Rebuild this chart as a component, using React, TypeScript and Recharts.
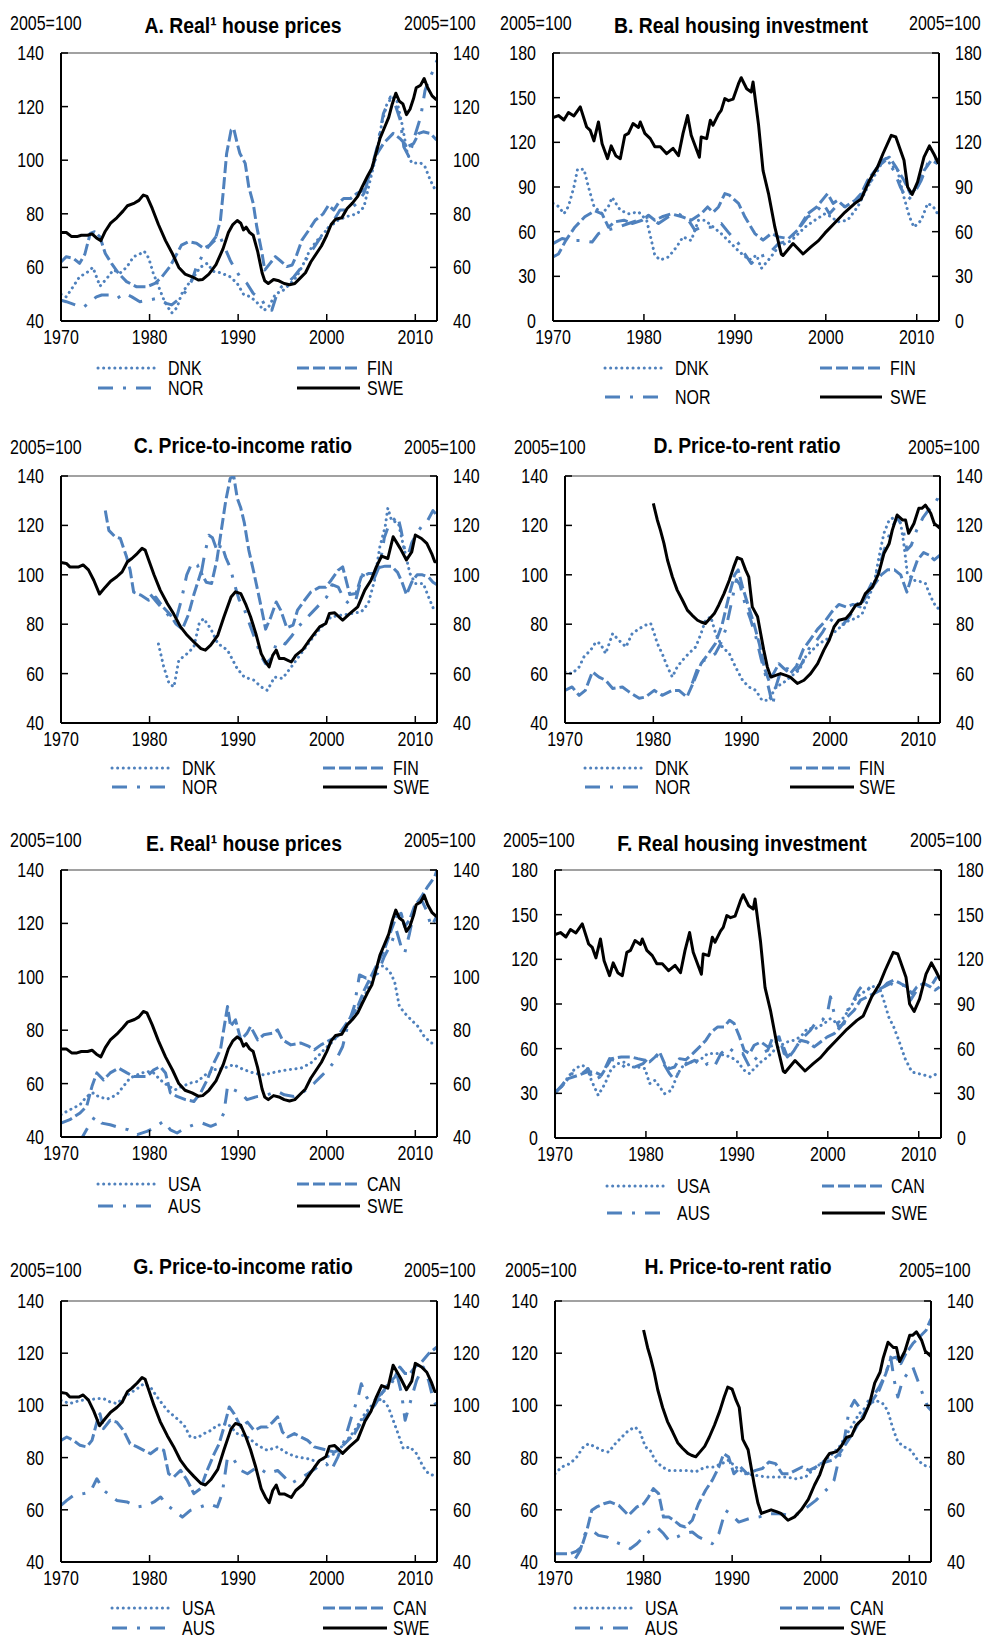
import React from "react";
import { LineChart, Line, XAxis, YAxis, ReferenceLine } from "recharts";

type Pt = [number, number];

// ── data: [year, index 2005=100] ─────────────────────────────────────────────

const YEARS = [1970, 1980, 1990, 2000, 2010];
const TICKS_RATIO = [40, 60, 80, 100, 120, 140];
const TICKS_INVEST = [0, 30, 60, 90, 120, 150, 180];
const NORDIC = ["DNK", "FIN", "NOR", "SWE"];
const ANGLO = ["USA", "CAN", "AUS", "SWE"];

const SWE_PRICE: Pt[] = [[1970,73],[1970.6,73],[1971.2,71.5],[1971.8,71.5],[1972.3,72],[1973,72],[1973.5,72.5],[1974,71],[1974.5,70],[1975,73.5],[1975.6,76.5],[1976.3,78.5],[1977,81],[1977.5,83],[1978.3,84],[1978.8,85],[1979.3,87],[1979.7,86.5],[1980.3,82],[1981,76],[1981.8,70],[1982.6,65],[1983.3,60],[1984,57.5],[1984.8,56.5],[1985.5,55.3],[1986,55.5],[1986.7,57.5],[1987.5,61],[1988.3,67],[1988.9,73],[1989.4,76],[1989.9,77.5],[1990.3,76.5],[1990.6,74],[1990.9,75],[1991.3,73],[1991.7,72],[1992.2,66],[1992.7,58],[1993,55],[1993.4,54],[1994,55.5],[1994.6,55],[1995.2,54],[1995.8,53.5],[1996.4,54],[1997,56],[1997.6,58],[1998.2,62],[1998.8,65],[1999.4,68],[2000,72],[2000.5,76],[2001,78],[2001.7,78.5],[2002.3,82],[2002.9,84],[2003.5,86.5],[2004,90],[2004.6,94],[2005.1,97],[2005.6,103],[2006,108],[2006.5,112],[2007,116],[2007.4,121],[2007.8,125],[2008.2,122],[2008.6,121],[2009,117],[2009.4,119],[2009.8,123],[2010.1,127],[2010.6,128],[2011,130.5],[2011.4,127],[2011.9,124],[2012.4,122.5]];
const DNK_PRICE: Pt[] = [[1970,50],[1970.6,49],[1971.4,53],[1972.1,56.5],[1972.9,58],[1973.6,60],[1974,56.5],[1974.4,53],[1975.2,56],[1975.9,59],[1976.7,58],[1977.4,60],[1978.2,64],[1978.9,65],[1979.4,66],[1979.9,63.5],[1980.4,58],[1981,53],[1981.6,48],[1982.1,45],[1982.5,43],[1983.1,45],[1983.6,50],[1984.2,53],[1985,56.5],[1985.7,60],[1986.5,61.5],[1987.2,58.5],[1988,58],[1989.1,56.5],[1989.9,54],[1990.6,50],[1991.4,49],[1992.1,47],[1992.9,44],[1993.4,45],[1994.2,50],[1995.1,51.5],[1995.9,54],[1996.6,56.5],[1997.4,61.5],[1998.1,66.5],[1998.9,70],[2000,74],[2001.2,77.5],[2002.3,79],[2003.4,80],[2004.2,82.5],[2004.9,92.5],[2005.7,103.5],[2006.2,113.5],[2006.8,121],[2007.4,123.5],[2007.9,122.5],[2008.5,113.5],[2009.1,102.5],[2009.6,99],[2010.6,99],[2011.1,97.5],[2011.7,92.5],[2012.4,88]];
const FIN_PRICE: Pt[] = [[1970,62],[1970.6,64],[1971.4,63.4],[1972.1,61.5],[1972.7,65],[1973.3,72.7],[1973.8,73.3],[1974.4,71.4],[1975,65.2],[1975.7,61.5],[1976.5,57.8],[1977.4,54.7],[1978.5,52.8],[1979.7,52.8],[1980.6,54],[1981.4,56.5],[1982.3,60.3],[1983.1,65.2],[1983.6,68.3],[1984.4,69.6],[1985.3,69],[1986.1,67.1],[1986.8,68.3],[1987.4,70.2],[1988,77.6],[1988.3,87.6],[1988.7,102.5],[1989.2,111.2],[1989.5,111.8],[1989.9,106.2],[1990.2,102.5],[1990.8,98.8],[1991.2,90],[1991.7,83.9],[1992.1,75.2],[1992.7,65.2],[1993,59],[1993.6,61.5],[1994.2,64],[1994.9,62.1],[1995.5,60.3],[1996.1,60.9],[1996.6,64.6],[1997.2,70.2],[1998,74],[1998.7,77.6],[1999.6,80],[2000.2,83.2],[2000.8,81.4],[2001.3,83.9],[2001.9,85.7],[2002.7,85.7],[2003.4,87.6],[2004.2,88.8],[2004.9,95],[2005.7,102.5],[2006.4,106.2],[2007.5,110],[2008.3,108],[2009.1,105],[2009.8,106.2],[2010.4,110],[2010.9,110.6],[2011.7,110],[2012.4,107.5]];
const NOR_PRICE: Pt[] = [[1970,47.8],[1970.6,47.2],[1971.6,46],[1972.5,45],[1973.3,47.2],[1974,49],[1974.6,49.7],[1975.5,49.7],[1976.3,48.4],[1977.2,50.3],[1978,49],[1978.9,47.2],[1979.9,47.8],[1980.8,48.4],[1981.9,46.6],[1982.5,46],[1983.4,48.4],[1984.2,51.5],[1984.8,55.3],[1985.3,60.3],[1985.9,64],[1986.5,67.1],[1987.2,70.2],[1987.8,72.7],[1989.1,62.7],[1989.5,60.3],[1990.2,56.5],[1991,54],[1991.7,50.3],[1992.7,47.8],[1993.2,44.7],[1993.8,44],[1994.4,50.3],[1994.9,52.8],[1995.5,54],[1996.3,56.5],[1997.2,60.3],[1998.1,65.2],[1999.1,70.2],[2000,74],[2000.8,77.6],[2001.5,81.4],[2002.5,81.4],[2003.4,83.9],[2004.2,87.6],[2004.9,95],[2005.7,105],[2006.4,117.4],[2007.2,123.6],[2007.7,121],[2008.3,115],[2008.7,105],[2009.3,101.2],[2009.8,107.5],[2010.6,116.1],[2011.1,126],[2011.5,129.8],[2012.1,134],[2012.45,137.3]];

const SWE_INVEST: Pt[] = [[1970,136.6],[1970.6,138],[1971.2,135],[1971.7,140],[1972.3,137.7],[1973,143.8],[1973.7,130.3],[1974.1,128],[1974.5,121],[1975,133.7],[1975.4,119],[1976,109],[1976.4,117.6],[1976.9,111],[1977.4,109],[1977.9,124.7],[1978.3,126],[1978.8,132.6],[1979.4,130],[1979.6,133.7],[1980.1,126],[1980.7,122.5],[1981.2,117],[1981.8,117],[1982.5,112.4],[1983.2,116],[1983.8,111],[1984.3,126],[1984.8,138],[1985.2,124.7],[1986.1,110],[1986.3,123.6],[1986.9,122.5],[1987.3,134.8],[1987.6,131.5],[1988.2,139],[1988.5,141.5],[1988.9,149.4],[1989.3,148],[1989.8,149],[1990.4,159.4],[1990.7,163.4],[1991.3,156],[1991.8,153.8],[1992,160.5],[1992.6,132],[1993.1,101],[1993.7,85.6],[1994.4,63],[1995.1,45],[1995.3,44],[1996.4,52],[1997.5,45],[1998.4,50],[1999.2,54],[1999.9,59],[2001,66],[2002.1,73],[2003.2,79],[2003.9,82],[2004.8,94.5],[2005.7,103.5],[2006.3,112.5],[2007.2,124.7],[2007.7,123.6],[2008.6,108],[2009,90],[2009.5,85],[2010.1,93.4],[2010.8,110],[2011.4,117.6],[2011.9,112],[2012.4,105.7]];
const DNK_INVEST: Pt[] = [[1970,79],[1970.6,77],[1971.2,72],[1971.7,77],[1972.3,90],[1972.7,102],[1973.4,102],[1973.9,90],[1974.5,77],[1975.4,72],[1976.1,77],[1976.5,83],[1977.4,74.4],[1978.3,72],[1979.4,73.3],[1980.3,67.7],[1980.9,52],[1981.2,44],[1981.8,41],[1982.7,43],[1983.6,49.8],[1984.3,56.5],[1985.2,54],[1986,67.7],[1986.7,67.7],[1987.6,63.2],[1988.5,58.7],[1989.6,52],[1990.5,46.4],[1991.6,41],[1992.4,44.2],[1992.9,35.3],[1993.7,41],[1994.8,49.8],[1996.2,54],[1997.7,63],[1998.8,67.7],[1999.9,72],[2000.6,70],[2001.3,66.6],[2002.4,67.7],[2003.5,76.6],[2004.6,90],[2005.7,101],[2006.5,110],[2007.2,104.6],[2007.9,101],[2008.6,83],[2009.2,70],[2009.7,63],[2010.5,67.7],[2011.2,79],[2011.8,77],[2012.3,72]];
const FIN_INVEST: Pt[] = [[1970,43],[1970.6,45],[1971.4,54],[1972.4,63],[1973.5,70],[1974.6,74],[1975.4,72],[1976.1,63],[1976.8,66.6],[1977.8,67.7],[1978.7,65.5],[1979.8,67.7],[1980.5,71],[1981.2,67.7],[1982,70],[1983,72],[1984.2,70],[1985.2,67.7],[1986.3,72],[1987,76.6],[1987.6,73],[1988.2,76.6],[1988.9,85.6],[1989.4,84.5],[1990.4,79],[1991.1,70],[1992.2,58.7],[1993.1,54.3],[1994,58.7],[1994.8,56.5],[1995.9,55.4],[1996.9,61],[1998,72],[1999,76.6],[1999.9,83.4],[2000.2,85.6],[2000.8,79],[2001.3,81],[2002.1,76.6],[2003.2,81],[2003.9,85.6],[2004.6,94.5],[2005.4,101],[2006.3,108],[2007,110],[2007.7,103.5],[2008.6,94.5],[2009.3,85.6],[2010.1,90],[2010.8,101],[2011.6,108],[2012.3,105.7]];
const NOR_INVEST: Pt[] = [[1970,52],[1971,55.4],[1972.1,54],[1973.2,54],[1974.3,53],[1975,58.7],[1975.9,61],[1977.2,63],[1978.3,65.5],[1979.4,67.7],[1980.5,70],[1981.6,65.5],[1982.7,70],[1983.8,72],[1984.9,67.7],[1985.6,61],[1986.3,63],[1987.4,63],[1988.5,65.5],[1989.4,58.7],[1990.4,52],[1991.1,45],[1991.8,38.6],[1992.6,43],[1993.7,45],[1994.8,52],[1995.9,54],[1996.9,61],[1998,70],[1998.8,72],[1999.7,79],[2000.4,72],[2001.3,78],[2002.4,76.6],[2003.5,81],[2004.6,90],[2005.7,103.5],[2006.6,108],[2007.5,101],[2008.2,90],[2009,81],[2009.7,85.6],[2010.5,94.5],[2011.2,105.7],[2011.9,110],[2012.3,108]];

const SWE_PTI: Pt[] = [[1970,105],[1970.6,104.6],[1971,103.2],[1972,103.2],[1972.5,104],[1973.1,102],[1973.7,97.8],[1974.35,92.2],[1975,95],[1975.6,97.4],[1976.3,99.2],[1976.9,101.2],[1977.5,105.3],[1978,106.6],[1978.6,108.6],[1979.15,110.7],[1979.5,110],[1979.9,106],[1980.5,100],[1981.2,93.8],[1982,88.4],[1982.7,84.3],[1983.5,78.9],[1984.25,75.5],[1985,72.8],[1985.8,70.1],[1986.3,69.5],[1986.9,71.5],[1987.7,75.5],[1988.4,83],[1989.2,91],[1989.7,93.1],[1990.3,92.4],[1990.9,87.7],[1991.4,83],[1992,76.2],[1992.6,68.1],[1993.1,64.7],[1993.5,62.7],[1993.9,67.4],[1994.3,69.5],[1994.65,66.1],[1995.2,66.1],[1996,64.7],[1996.5,67.4],[1997.3,69.7],[1997.9,72.8],[1998.6,76.2],[1999.2,78.9],[1999.9,80.3],[2000.3,84.3],[2000.9,84.6],[2001.8,81.6],[2002.6,84.3],[2003.5,87],[2004.3,93.8],[2005,97.8],[2005.6,103.2],[2006.2,107.6],[2006.9,106.6],[2007.5,115.4],[2008.3,110.7],[2009,106],[2009.6,109.3],[2010,116.1],[2010.7,114.7],[2011.3,112.7],[2011.85,108.6],[2012.2,105.3],[2012.45,105.3]];
const DNK_PTI: Pt[] = [[1981,72],[1981.6,62.7],[1982.2,56],[1982.75,54.6],[1983.3,65.4],[1984.25,68.1],[1985,70.8],[1985.6,80.3],[1986.1,82.3],[1986.9,78.2],[1987.7,72.2],[1988.8,69.5],[1989.9,62],[1990.7,58.6],[1991.8,57.3],[1992.6,54.6],[1993.3,53.2],[1994.1,58.6],[1995,58],[1996,62.7],[1997.1,68.1],[1998.2,73.5],[1999.4,78.9],[2000.5,83],[2001.6,83.6],[2002.8,84.3],[2003.9,85],[2004.7,88.4],[2005.4,97.8],[2006,111.4],[2006.6,119.5],[2006.9,127],[2007.3,122.2],[2008.1,120.8],[2008.6,112.7],[2009.4,100.5],[2010,96.5],[2010.9,96.5],[2011.5,91],[2012.2,85]];
const FIN_PTI: Pt[] = [[1975,126],[1975.4,118],[1976.1,115.4],[1976.7,114.7],[1977.4,107.3],[1977.8,102],[1978.2,93],[1979,91.8],[1979.9,89.7],[1980.7,91],[1981.5,87],[1982.3,84],[1983,80],[1983.7,78],[1984.4,84],[1985,92],[1985.8,101],[1986.4,97],[1987,96.5],[1987.6,106],[1988.1,118],[1988.6,130],[1989.1,139],[1989.5,140],[1989.9,131],[1990.3,127],[1990.7,121],[1991.2,110],[1991.8,100.5],[1992.6,87],[1993.1,78],[1993.7,83],[1994.3,89],[1994.8,85.7],[1995.5,78.5],[1996.2,79.6],[1996.7,85.7],[1997.5,89.7],[1998.2,93],[1999.2,95],[1999.9,95],[2000.5,97.8],[2001.3,101.9],[2001.8,103.2],[2002.6,92],[2003.3,92.4],[2003.9,99.2],[2004.7,100.5],[2005.4,100.5],[2006,103],[2006.6,103.5],[2007.3,103.5],[2008,101],[2008.5,97],[2009,92],[2009.6,97],[2010.2,100],[2010.8,100],[2011.5,99],[2012,97],[2012.45,96]];
const NOR_PTI: Pt[] = [[1980.1,92],[1980.8,89],[1981.5,86],[1982.3,83],[1983,82],[1983.6,90],[1984.2,100],[1984.8,105],[1985.4,104],[1985.8,100],[1986.2,108],[1986.7,116],[1987.1,115],[1987.7,109],[1988.1,112.7],[1988.6,107],[1989.1,103],[1989.6,96],[1990.1,90],[1990.7,86],[1991.3,80],[1992,73],[1992.6,67],[1993.1,64],[1993.7,66],[1994.3,72],[1994.8,73],[1995.3,72],[1996,75],[1996.8,79],[1997.6,82],[1998.4,85],[1999.2,88],[2000,91],[2000.6,96],[2001.3,95],[2002,90],[2002.6,88],[2003.3,90],[2004,100],[2004.6,99],[2005.3,98],[2006,104],[2006.5,115],[2007,120],[2007.5,122],[2008,124],[2008.4,118],[2008.8,110],[2009.2,108],[2009.6,113],[2010.2,117],[2010.8,120],[2011.4,122],[2012,126],[2012.45,124]];

const SWE_PTR: Pt[] = [[1980,128.9],[1980.45,122.2],[1980.8,118.1],[1981.2,112.7],[1981.6,106],[1982.15,99.2],[1982.7,93.8],[1983.3,89.7],[1983.85,85.7],[1984.4,83.6],[1985,81.6],[1985.4,80.9],[1985.9,80.3],[1986.3,81.9],[1986.9,84.3],[1987.4,87.7],[1988,92.4],[1988.6,97.8],[1989.1,103.2],[1989.5,107],[1990,106.2],[1990.45,101.9],[1990.8,99.2],[1991.2,87],[1991.8,83],[1992.15,76.2],[1992.5,69.5],[1992.9,62.7],[1993.3,58.6],[1993.85,59.3],[1994.4,60],[1995,59.3],[1995.5,58.6],[1996.3,56],[1997.05,57.3],[1997.8,60],[1998.6,64],[1999.3,69.5],[1999.9,73.5],[2000.45,78.9],[2001,81.6],[2001.8,82.3],[2002.3,84.3],[2002.9,87.7],[2003.5,88.4],[2004,92.4],[2004.8,95.1],[2005.5,100.5],[2006.1,108.6],[2006.7,112.7],[2007.05,118.1],[2007.6,124.2],[2008.2,122.2],[2008.55,122.2],[2008.9,116.8],[2009.5,120.8],[2010.05,126.9],[2010.4,126.9],[2010.8,128.2],[2011.4,124.9],[2011.8,120.8],[2012.45,118.8]];
const DNK_PTR: Pt[] = [[1970,60.7],[1970.8,60],[1971.6,62.7],[1972.15,66.8],[1972.9,69.5],[1973.5,72.8],[1974,72.2],[1974.6,68.1],[1975.4,76.2],[1976.1,73.5],[1976.9,70.8],[1977.6,76.2],[1978.4,78.2],[1979.1,79.6],[1979.7,80.3],[1980.1,76.2],[1980.45,72.2],[1981,68.1],[1981.6,62.7],[1982.15,58.6],[1982.7,62.7],[1983.3,65.4],[1984,68.1],[1984.8,70.8],[1985.4,76.2],[1985.9,81.6],[1986.5,83],[1987.05,76.2],[1987.8,70.8],[1988.6,68.1],[1989.3,62.7],[1990.1,57.3],[1990.8,54.6],[1991.6,53.2],[1992.3,49.2],[1993.1,49.2],[1993.85,54.6],[1994.6,55.9],[1995.5,58.6],[1996.5,61.4],[1997.25,66.8],[1998,69.5],[1998.75,72.2],[1999.5,73.5],[2000.3,76.2],[2001.2,78.9],[2002.15,81.6],[2002.9,82.3],[2003.65,84.3],[2004.4,91.1],[2005,96.5],[2005.55,107.3],[2006.1,116.8],[2006.7,122.2],[2007.4,123.5],[2008,120.8],[2008.4,111.4],[2008.75,100.5],[2009.5,97.8],[2010.25,97.2],[2010.8,96.5],[2011.4,91.1],[2012,87],[2012.45,86]];
const FIN_PTR: Pt[] = [[1970,53.2],[1970.8,54.6],[1971.6,51.2],[1972.3,53.2],[1973.1,60.7],[1973.85,58.6],[1974.6,57.3],[1975.4,54],[1976.5,54.6],[1977.25,52.6],[1978.4,50],[1979.1,50.5],[1980.1,53.2],[1981,51.2],[1982.15,53.2],[1982.9,53.2],[1983.8,50.5],[1984.6,57],[1985.4,64],[1986.2,68],[1987,72],[1987.8,80],[1988.6,92],[1989.2,100],[1989.6,102],[1990.1,95],[1990.7,88],[1991.4,80],[1992,72],[1992.6,62],[1993.1,57],[1993.6,60],[1994.2,64],[1994.8,62],[1995.5,60],[1996.2,63],[1997,70],[1997.8,74],[1998.6,78],[1999.4,81],[2000.2,85],[2001,88],[2001.8,87],[2002.6,88],[2003.4,87],[2004.2,92],[2005,96],[2005.8,100],[2006.5,102],[2007.3,102],[2008,100],[2008.7,93],[2009.3,100],[2009.9,106],[2010.6,109],[2011.2,108],[2011.8,106],[2012.45,108]];
const NOR_PTR: Pt[] = [[1984.4,56],[1985,62],[1985.5,65],[1986.2,66],[1987,68],[1987.6,72],[1988.2,78],[1988.8,88],[1989.4,98],[1989.8,96],[1990.4,88],[1991,82],[1991.6,75],[1992.2,66],[1992.8,58],[1993.2,52],[1993.5,47],[1993.9,55],[1994.5,62],[1995.2,62],[1996,60],[1996.8,64],[1997.6,70],[1998.4,73],[1999.2,77],[2000,82],[2000.8,80],[2001.5,80],[2002.2,83],[2003,88],[2003.8,90],[2004.5,95],[2005.2,100],[2005.8,106],[2006.4,113],[2007,119],[2007.6,123],[2008.2,120],[2008.7,110],[2009.2,112],[2009.8,118],[2010.5,123],[2011.1,126],[2011.7,128],[2012.2,131],[2012.45,134]];

const USA_PRICE: Pt[] = [[1970,48.4],[1971,50.2],[1972.15,52.1],[1972.9,55.2],[1973.65,56.5],[1974.2,55.2],[1975.2,54.2],[1976.3,55.8],[1977.05,59],[1977.8,62.1],[1978.6,63.3],[1979.7,64.6],[1980.5,63.9],[1981.2,61.4],[1982.15,59],[1982.9,57.7],[1983.7,59],[1984.6,60.2],[1985.4,60.8],[1986.3,63.3],[1987.3,65.2],[1988.4,65.8],[1989.5,67.1],[1990.65,65.2],[1991.8,63.9],[1992.9,63.3],[1994.05,64.2],[1995.6,65.2],[1997.1,65.8],[1998.2,67.7],[1999,70.2],[1999.7,72.7],[2000.5,75.2],[2001.2,77.7],[2002,80],[2003,85],[2004,91],[2005,98],[2005.8,104],[2006.5,104],[2007.3,101],[2007.7,97.6],[2008.2,89],[2008.8,86.4],[2009.5,84],[2010.3,81.4],[2011,77.7],[2011.8,75.2],[2012.4,75]];
const CAN_PRICE: Pt[] = [[1970,45.2],[1971,46.5],[1972.15,49],[1972.9,51.5],[1973.5,59],[1974.05,64],[1974.8,61.4],[1975.55,64],[1976.5,65.8],[1977.45,64],[1978.2,62.7],[1978.95,62.7],[1979.7,62.7],[1980.5,65.2],[1981.2,66.4],[1981.8,64],[1982.35,56.5],[1983.1,55.2],[1984.05,54],[1985,53.3],[1985.75,56.5],[1986.5,61.4],[1987.25,67.7],[1988,72.7],[1988.8,88.9],[1989.15,81.4],[1989.7,83.9],[1990.3,76.4],[1991,78.9],[1991.4,81.4],[1992.2,76.4],[1992.9,78.3],[1993.9,78.9],[1994.45,80.1],[1995,76.4],[1995.95,74.5],[1997.1,75.2],[1998,73.9],[1998.6,72.7],[1999.35,74.5],[2000.1,75.8],[2001.2,77.7],[2002,81.4],[2002.75,85.1],[2003.5,88.9],[2004.25,95.1],[2005,100.1],[2005.75,105.1],[2006.5,110.1],[2007.3,117.6],[2007.85,122.5],[2008.4,123.8],[2008.8,118.8],[2009.35,121.3],[2009.9,126.3],[2010.7,130],[2011.4,133.8],[2012.2,137.5],[2012.45,140]];
const AUS_PRICE: Pt[] = [[1972.1,38.5],[1972.35,39.6],[1973.1,44],[1973.85,47.7],[1974.6,45.2],[1975.55,44.6],[1976.7,43.4],[1977.6,42.7],[1978.6,40.9],[1979.7,42.1],[1980.5,43.4],[1981.6,45.9],[1982.35,42.7],[1983.1,41.5],[1984.05,43.4],[1985,44.6],[1985.95,45.2],[1986.9,44],[1987.8,45.2],[1988.4,49],[1988.8,59],[1989.5,57.7],[1990.3,56.5],[1991,54],[1992.2,55.2],[1993.3,55.8],[1994.45,57.1],[1995.2,55.8],[1996.3,55.2],[1997.45,57.1],[1998.6,60.2],[1999.35,62.7],[2000.3,65.8],[2001.25,70.2],[2001.8,73.9],[2002.35,81.4],[2003.1,88.9],[2003.7,100.7],[2004.45,99.5],[2005,100.1],[2005.75,101.3],[2006.5,107.6],[2007.3,112.6],[2007.85,117.6],[2008.4,111.3],[2008.8,108.8],[2009.35,116.3],[2009.9,125],[2010.7,128.8],[2011.25,125],[2011.8,118.8],[2012.4,122.5]];

const USA_INVEST: Pt[] = [[1970,32],[1970.7,34.3],[1971.45,41],[1972.2,46.6],[1972.9,48.8],[1973.5,47.7],[1974,38.7],[1974.75,28.7],[1975.5,36.5],[1976.2,46.6],[1976.95,50],[1977.7,51.1],[1978.4,47.7],[1979.1,47.7],[1979.9,46.6],[1980.4,36.5],[1981,38.7],[1981.5,34.3],[1982.05,29.8],[1982.8,32],[1983.5,43.2],[1984.25,50],[1985,51.1],[1985.9,52.2],[1986.8,56.7],[1987.9,56.7],[1988.6,55.6],[1989.35,54.4],[1990.1,51.1],[1990.8,45.5],[1991.4,43.2],[1991.9,46.6],[1992.65,51.1],[1993.4,54.4],[1994.1,58.9],[1994.85,62.3],[1995.55,64.5],[1996.3,65.7],[1997,67.9],[1997.75,73.5],[1998.65,73.5],[1999.6,76.9],[2000.3,80.2],[2001.05,76.9],[2001.8,81.3],[2002.5,88.1],[2003.2,94.8],[2004,98.2],[2004.9,101.5],[2005.6,102.6],[2006.15,92.6],[2006.7,81.3],[2007.25,74.6],[2007.8,65.7],[2008.5,53.3],[2009.25,44.3],[2010,43.2],[2010.7,42.1],[2011.3,41],[2012,43.2]];
const CAN_INVEST: Pt[] = [[1970,30.9],[1970.7,34.3],[1971.45,39.9],[1972.55,42.1],[1973.5,44.3],[1974.4,44.3],[1975.1,42.1],[1975.65,47.7],[1976.2,53.3],[1977.3,54.4],[1978.4,54.4],[1979.1,53.3],[1979.9,52.2],[1980.4,51.1],[1981,54.4],[1981.5,57.8],[1982.05,50],[1982.6,46.6],[1983.15,47.7],[1983.7,53.3],[1984.4,52.6],[1985.15,56.7],[1985.9,61.2],[1986.6,65.7],[1987.2,71.3],[1987.9,74.6],[1988.6,74.6],[1989.2,79.1],[1989.7,76.9],[1990.3,67.9],[1990.8,58.9],[1991.4,56.7],[1991.9,62.3],[1992.65,64.5],[1993.4,61.2],[1994.1,62.3],[1994.65,67.9],[1995.2,56.7],[1995.75,54.4],[1996.3,58.9],[1997,65.7],[1997.75,64.5],[1998.5,61.2],[1999.2,64.5],[1999.95,67.9],[2000.7,70.1],[2001.4,74.6],[2002.15,81.3],[2002.9,85.8],[2003.6,92.6],[2004.35,94.8],[2005.05,97],[2005.8,99.3],[2006.5,103.8],[2007.25,106],[2008,103.8],[2008.7,101.5],[2009.25,97],[2009.8,101.5],[2010.55,103.8],[2011.3,101.5],[2011.8,99.3],[2012.3,101.5]];
const AUS_INVEST: Pt[] = [[1970,29.8],[1970.9,36.5],[1971.8,43.2],[1972.75,42.1],[1973.65,46.6],[1974.2,38.7],[1974.95,41],[1975.5,46.6],[1976,53.3],[1977,51.1],[1977.85,46.6],[1978.8,47.7],[1979.7,50],[1980.2,53.3],[1981,55.6],[1981.5,54.4],[1982.05,48.8],[1982.6,43.2],[1983.15,38.7],[1983.9,47.7],[1984.6,50],[1985.35,52.2],[1986.25,47.7],[1986.8,50],[1987.5,47.7],[1988.25,56.7],[1989,61.2],[1989.9,56.7],[1990.65,56.7],[1991.4,47.7],[1991.9,52.2],[1992.65,56.7],[1993.4,58.9],[1994.1,70.1],[1994.85,65.7],[1995.55,54.4],[1996.3,58.9],[1997,65.7],[1998.1,72.4],[1998.85,79.1],[1999.4,79.1],[1999.95,83.6],[2000.3,94.8],[2000.7,83.6],[2001.2,74.6],[2001.8,76.9],[2002.3,88.1],[2002.85,92.6],[2003.4,99.3],[2004,103.8],[2004.7,99.3],[2005.45,99.3],[2006.15,101.5],[2006.9,103.8],[2007.6,101.5],[2008.35,102.6],[2009.1,92.6],[2009.8,99.3],[2010.55,103.8],[2011.3,101.5],[2012,108.3]];

const USA_PTI: Pt[] = [[1970,101.9],[1971,100.7],[1972.15,101.9],[1973.3,102.2],[1974.05,102.6],[1974.8,102.6],[1975.55,101.3],[1976.3,100.7],[1977.45,103.9],[1978.6,106.4],[1979.35,108.3],[1980.1,107],[1980.85,103.2],[1982,98.1],[1983.1,94.9],[1983.9,92.4],[1984.6,87.9],[1985.4,87.6],[1986.15,89.2],[1986.9,90.4],[1987.65,92.4],[1988.8,93],[1989.9,89.2],[1991.05,87.9],[1992.2,84.7],[1993.3,82.8],[1994.45,84.1],[1995.6,81.5],[1996.7,80.2],[1997.85,79.6],[1999,78.3],[1999.95,80.2],[2000.9,81.5],[2002,85.3],[2003.15,90.4],[2004.3,96.8],[2005.25,100.7],[2006.2,102.6],[2006.95,99.4],[2007.5,94.3],[2008.05,89.2],[2008.65,83.4],[2009.4,84.1],[2010.15,81.5],[2010.9,76.4],[2011.5,73.8],[2012.05,73.2]];
const CAN_PTI: Pt[] = [[1970,86.6],[1970.65,87.9],[1971.4,86.6],[1972.15,84.7],[1972.9,84.1],[1973.5,86.6],[1974.05,93.6],[1974.4,96.8],[1974.8,91.1],[1975.55,94.3],[1976.3,93.6],[1977.05,90.4],[1977.8,85.3],[1978.6,84.1],[1979.35,82.8],[1980.1,81.5],[1980.85,83.4],[1981.6,82.8],[1982.15,73.8],[1982.75,72.6],[1983.5,75.1],[1984.25,71.3],[1985,66.2],[1985.75,68.1],[1986.5,75.1],[1987.3,81.5],[1987.85,85.3],[1988.4,91.7],[1989,99.4],[1989.55,96.8],[1990.3,91.7],[1991.05,93.6],[1991.8,90.4],[1992.55,91.7],[1993.3,91.7],[1993.9,93.6],[1994.45,95.6],[1995,89.8],[1995.6,87.9],[1996.35,89.2],[1997.1,87.9],[1997.85,86.6],[1998.6,84.1],[1999.4,83.4],[2000.1,82.8],[2000.9,82.1],[2001.65,84.1],[2002.4,86.6],[2003.15,89.2],[2003.9,93.6],[2004.65,96.8],[2005.4,100],[2006.2,104.5],[2006.95,108.3],[2007.7,110.9],[2008.25,114.7],[2008.85,112.2],[2009.4,112.2],[2009.95,114.7],[2010.7,116.6],[2011.5,119.8],[2012.2,121.7],[2012.45,122.4]];
const AUS_PTI: Pt[] = [[1970,61.7],[1970.65,63.6],[1971.4,65.5],[1972.55,66.2],[1973.3,66.8],[1974.05,71.9],[1974.8,67.5],[1975.55,65.5],[1976.3,63.6],[1977.45,63],[1978.6,61.1],[1979.7,61.7],[1980.5,63],[1981.25,64.9],[1982,61.7],[1982.75,59.8],[1983.7,57.2],[1984.6,59.8],[1985.75,61.1],[1986.7,62.3],[1987.65,61.1],[1988.2,66.2],[1988.8,80.2],[1989.55,79],[1990.3,75.1],[1991.05,73.8],[1992.2,76.4],[1993.3,73.8],[1994.45,75.1],[1995.2,72.6],[1995.95,70],[1996.9,71.9],[1997.85,73.8],[1999,76.4],[1999.95,77.7],[2000.5,75.1],[2001.25,80.2],[2002,86.6],[2002.8,95.6],[2003.55,103.2],[2003.9,108.3],[2004.5,103.2],[2005.05,100.7],[2005.8,103.2],[2006.55,105.8],[2007.3,108.3],[2007.9,112.2],[2008.45,104.5],[2008.85,94.3],[2009.6,103.2],[2010.15,109.6],[2010.9,114.7],[2011.5,109.6],[2012.05,101.9],[2012.45,99.4]];

const USA_PTR: Pt[] = [[1970,73.8],[1970.75,76.4],[1971.7,77.7],[1972.45,80.2],[1973.2,84.1],[1973.8,85.3],[1974.55,84.1],[1975.3,82.8],[1976.05,82.1],[1976.8,85.3],[1977.55,87.9],[1978.3,90.4],[1979.05,91.7],[1979.6,89.8],[1980.2,84.1],[1980.75,82.8],[1981.3,79],[1982.1,76.4],[1982.85,75.1],[1983.95,75.1],[1985.1,75.1],[1985.85,74.5],[1987,76.4],[1987.9,76.4],[1988.85,77.7],[1989.6,79],[1990.4,76.4],[1991.5,73.8],[1992.65,73.2],[1993.8,72.6],[1994.9,72.6],[1996.05,72.6],[1997.15,71.9],[1998.3,72.6],[1999.05,75.1],[2000,77.7],[2000.95,80.2],[2002.1,84.1],[2003.2,90.4],[2004.35,96.8],[2005.5,100.7],[2006.25,101.9],[2007,100.7],[2007.55,98.1],[2008.1,91.7],[2008.7,86],[2009.45,84.1],[2010.2,82.8],[2010.95,79],[2011.7,77],[2012.45,76.4]];
const CAN_PTR: Pt[] = [[1970,43.2],[1970.75,43.2],[1971.7,43.2],[1972.45,44.2],[1973,45.7],[1973.6,52.1],[1974.15,59.8],[1974.7,61.1],[1975.5,62.3],[1976.2,63],[1977.2,61.7],[1978.3,57.9],[1979.25,61.1],[1980,62.3],[1980.55,64.9],[1981.1,68.1],[1981.7,66.2],[1982.25,57.2],[1982.85,57.2],[1983.4,56],[1984.15,54],[1984.7,53.4],[1985.5,56],[1986.2,62.3],[1987,67.5],[1987.75,71.3],[1988.5,76.4],[1989.05,81.5],[1989.6,80.2],[1990.2,73.8],[1990.95,76.4],[1991.7,73.8],[1992.65,75.1],[1993.4,75.8],[1994.15,78.3],[1994.9,77.7],[1995.65,73.8],[1996.4,73.8],[1997.15,75.1],[1997.9,76.4],[1998.7,75.1],[1999.45,76.4],[2000,77.7],[2000.55,78.3],[2001.3,79],[2002.1,81.5],[2002.85,85.3],[2003.6,89.2],[2004.35,93.6],[2005.1,98.1],[2005.85,101.9],[2006.6,105.8],[2007.35,112.2],[2007.9,117.9],[2008.5,118.5],[2009.05,116],[2009.6,119.8],[2010.4,123.7],[2011.15,126.2],[2011.9,128.8],[2012.45,133.2]];
const AUS_PTR: Pt[] = [[1972.3,41.3],[1972.85,44.5],[1973.4,50.9],[1974.15,52.1],[1974.9,50.2],[1975.85,49.6],[1976.8,47.7],[1977.75,46.4],[1978.5,45.1],[1979.25,47],[1980,49.6],[1980.75,52.1],[1981.5,53.4],[1982.25,50.9],[1982.85,48.3],[1983.8,49.6],[1984.55,50.9],[1985.5,51.5],[1986.2,49.6],[1987,48.3],[1987.75,47],[1988.5,50.9],[1989.25,59.8],[1989.8,58.5],[1990.75,55.3],[1991.9,56.6],[1993,57.2],[1994.15,58.5],[1995.3,58.5],[1996.4,57.9],[1997.55,58.5],[1998.5,61.1],[1999.45,63.6],[2000.2,66.2],[2000.95,68.7],[2001.5,71.3],[2002.1,80.2],[2002.65,86.6],[2003.2,98.1],[2003.8,101.9],[2004.35,99.4],[2005.1,100.7],[2005.85,103.2],[2006.6,107],[2007.35,112.2],[2007.9,118.5],[2008.3,109.6],[2008.7,103.2],[2009.25,109.6],[2009.8,112.2],[2010.4,114.7],[2010.95,109.6],[2011.5,104.5],[2012.1,99.4],[2012.45,98.1]];

// ── styling ──────────────────────────────────────────────────────────────────

const BLUE = "#4F81BD";
// narrow sans: Liberation Sans squeezed horizontally
const FONT = '"Liberation Sans", Arial, sans-serif';
const NARROW = 0.82;
const FS = 19.5;
const AX_W = 50; // width reserved for each y axis
const AX_H = 30; // height reserved for the x axis
const PAD_T = 10;
const X_DOMAIN: [number, number] = [1970, 2012.45];

// one stroke style per legend slot: dotted, dashed, dash-dot, solid
const STROKES = [
  { stroke: BLUE, strokeWidth: 3, strokeDasharray: "0.1 5.5", strokeLinecap: "round" as const },
  { stroke: BLUE, strokeWidth: 3, strokeDasharray: "12 4" },
  { stroke: BLUE, strokeWidth: 3, strokeDasharray: "15 10 3 10" },
  { stroke: "#000", strokeWidth: 3 },
];

type Panel = {
  title: string;
  names: string[];
  series: Pt[][];
  ticks: number[];
  left: number; top: number; w: number; h: number;
  titleX: number; titleY: number;
  unitY: number; unitL: number; unitR: number;
  legY: [number, number];
  col1: [number, number, number];
  col2: [number, number, number];
};

const PANELS: Panel[] = [
  { title: "A. Real¹ house prices", names: NORDIC, series: [DNK_PRICE, FIN_PRICE, NOR_PRICE, SWE_PRICE], ticks: TICKS_RATIO,
    left: 61, top: 53, w: 376, h: 268, titleX: 243, titleY: 33, unitY: 30, unitL: 10, unitR: 404,
    legY: [368, 388], col1: [98, 157, 168], col2: [297, 360, 367] },
  { title: "B. Real housing investment", names: NORDIC, series: [DNK_INVEST, FIN_INVEST, NOR_INVEST, SWE_INVEST], ticks: TICKS_INVEST,
    left: 553, top: 53, w: 386, h: 268, titleX: 741, titleY: 33, unitY: 30, unitL: 500, unitR: 909,
    legY: [368, 397], col1: [605, 664, 675], col2: [820, 882, 890] },
  { title: "C. Price-to-income ratio", names: NORDIC, series: [DNK_PTI, FIN_PTI, NOR_PTI, SWE_PTI], ticks: TICKS_RATIO,
    left: 61, top: 476, w: 376, h: 247, titleX: 243, titleY: 453, unitY: 454, unitL: 10, unitR: 404,
    legY: [768, 787], col1: [112, 172, 182], col2: [323, 387, 393] },
  { title: "D. Price-to-rent ratio", names: NORDIC, series: [DNK_PTR, FIN_PTR, NOR_PTR, SWE_PTR], ticks: TICKS_RATIO,
    left: 565, top: 476, w: 375, h: 247, titleX: 747, titleY: 453, unitY: 454, unitL: 514, unitR: 908,
    legY: [768, 787], col1: [585, 644, 655], col2: [790, 854, 859] },
  { title: "E. Real¹ house prices", names: ANGLO, series: [USA_PRICE, CAN_PRICE, AUS_PRICE, SWE_PRICE], ticks: TICKS_RATIO,
    left: 61, top: 870, w: 376, h: 267, titleX: 244, titleY: 851, unitY: 847, unitL: 10, unitR: 404,
    legY: [1184, 1206], col1: [98, 157, 168], col2: [297, 360, 367] },
  { title: "F. Real housing investment", names: ANGLO, series: [USA_INVEST, CAN_INVEST, AUS_INVEST, SWE_INVEST], ticks: TICKS_INVEST,
    left: 555, top: 870, w: 386, h: 268, titleX: 742, titleY: 851, unitY: 847, unitL: 503, unitR: 910,
    legY: [1186, 1213], col1: [607, 667, 677], col2: [822, 885, 891] },
  { title: "G. Price-to-income ratio", names: ANGLO, series: [USA_PTI, CAN_PTI, AUS_PTI, SWE_PTI], ticks: TICKS_RATIO,
    left: 61, top: 1301, w: 376, h: 261, titleX: 243, titleY: 1274, unitY: 1277, unitL: 10, unitR: 404,
    legY: [1608, 1628], col1: [112, 172, 182], col2: [323, 387, 393] },
  { title: "H. Price-to-rent ratio", names: ANGLO, series: [USA_PTR, CAN_PTR, AUS_PTR, SWE_PTR], ticks: TICKS_RATIO,
    left: 555, top: 1301, w: 376, h: 261, titleX: 738, titleY: 1274, unitY: 1277, unitL: 505, unitR: 899,
    legY: [1608, 1628], col1: [575, 635, 645], col2: [780, 844, 850] },
];

const toXY = (pts: Pt[]) => pts.map(([x, y]) => ({ x, y }));

// condensed text anchored at (x, y)
function NText({
  x, y, anchor = "start", size = FS, bold = false, mid = false, squeeze = NARROW, children,
}: {
  x: number; y: number; anchor?: "start" | "middle" | "end"; size?: number;
  bold?: boolean; mid?: boolean; squeeze?: number; children: React.ReactNode;
}) {
  return (
    <text
      transform={`translate(${x},${y}) scale(${squeeze},1)`}
      x={0}
      y={0}
      dy={mid ? "0.36em" : undefined}
      textAnchor={anchor}
      fontFamily={FONT}
      fontSize={size}
      fontWeight={bold ? "bold" : "normal"}
      fill="#000"
    >
      {children}
    </text>
  );
}

// ── ticks: marks point into the plot, labels sit outside ────────────────────

function LeftTick({ x, y, payload }: any) {
  return (
    <g>
      <line x1={x} x2={x + 7} y1={y} y2={y} stroke="#000" strokeWidth={1.5} />
      <NText x={x - 17} y={y} anchor="end" mid>{payload.value}</NText>
    </g>
  );
}

function RightTick({ x, y, payload }: any) {
  return (
    <g>
      <line x1={x} x2={x - 7} y1={y} y2={y} stroke="#000" strokeWidth={1.5} />
      <NText x={x + 16} y={y} anchor="start" mid>{payload.value}</NText>
    </g>
  );
}

function BottomTick({ x, y, payload }: any) {
  return (
    <g>
      <line x1={x} x2={x} y1={y} y2={y - 7} stroke="#000" strokeWidth={1.5} />
      <NText x={x} y={y + 23} anchor="middle">{payload.value}</NText>
    </g>
  );
}

// ── one panel ────────────────────────────────────────────────────────────────

function PanelChart({ p }: { p: Panel }) {
  const yDomain: [number, number] = [p.ticks[0], p.ticks[p.ticks.length - 1]];
  const axisLine = { stroke: "#000", strokeWidth: 2 };
  return (
    <div style={{ position: "absolute", left: p.left - AX_W, top: p.top - PAD_T }}>
      <LineChart
        width={p.w + 2 * AX_W}
        height={p.h + PAD_T + AX_H}
        margin={{ top: PAD_T, right: 0, bottom: 0, left: 0 }}
      >
        <XAxis
          type="number"
          dataKey="x"
          domain={X_DOMAIN}
          ticks={YEARS}
          interval={0}
          allowDataOverflow
          height={AX_H}
          axisLine={axisLine}
          tickLine={false}
          tickSize={0}
          tickMargin={0}
          tick={<BottomTick />}
        />
        <YAxis
          yAxisId="l"
          type="number"
          domain={yDomain}
          ticks={p.ticks}
          interval={0}
          allowDataOverflow
          width={AX_W}
          axisLine={axisLine}
          tickLine={false}
          tickSize={0}
          tickMargin={0}
          tick={<LeftTick />}
        />
        <YAxis
          yAxisId="r"
          orientation="right"
          type="number"
          domain={yDomain}
          ticks={p.ticks}
          interval={0}
          allowDataOverflow
          width={AX_W}
          axisLine={axisLine}
          tickLine={false}
          tickSize={0}
          tickMargin={0}
          tick={<RightTick />}
        />
        <ReferenceLine yAxisId="l" y={yDomain[1]} stroke="#444" strokeWidth={1.2} />
        {p.series.map((s, i) => (
          <Line
            key={p.names[i]}
            yAxisId="l"
            data={toXY(s)}
            dataKey="y"
            name={p.names[i]}
            type="linear"
            dot={false}
            activeDot={false}
            strokeLinejoin="round"
            isAnimationActive={false}
            {...STROKES[i]}
          />
        ))}
      </LineChart>
    </div>
  );
}

// titles, unit captions and legends for every panel
function Annotations() {
  return (
    <svg
      width={984}
      height={1637}
      style={{ position: "absolute", left: 0, top: 0, pointerEvents: "none" }}
    >
      {PANELS.map((p) => {
        const slots = [
          { y: p.legY[0], c: p.col1 },
          { y: p.legY[0], c: p.col2 },
          { y: p.legY[1], c: p.col1 },
          { y: p.legY[1], c: p.col2 },
        ];
        return (
          <g key={p.title}>
            <NText x={p.titleX} y={p.titleY} anchor="middle" size={22} squeeze={0.88} bold>{p.title}</NText>
            <NText x={p.unitL} y={p.unitY}>2005=100</NText>
            <NText x={p.unitR} y={p.unitY}>2005=100</NText>
            {slots.map((s, i) => (
              <g key={p.names[i]}>
                <line x1={s.c[0]} x2={s.c[1]} y1={s.y} y2={s.y} {...STROKES[i]} />
                <NText x={s.c[2]} y={s.y} mid>{p.names[i]}</NText>
              </g>
            ))}
          </g>
        );
      })}
    </svg>
  );
}

export default function App() {
  return (
    <div
      style={{
        position: "absolute",
        left: 0,
        top: 0,
        width: 984,
        height: 1637,
        overflow: "hidden",
        background: "#fff",
      }}
    >
      {PANELS.map((p) => (
        <PanelChart key={p.title} p={p} />
      ))}
      <Annotations />
    </div>
  );
}
